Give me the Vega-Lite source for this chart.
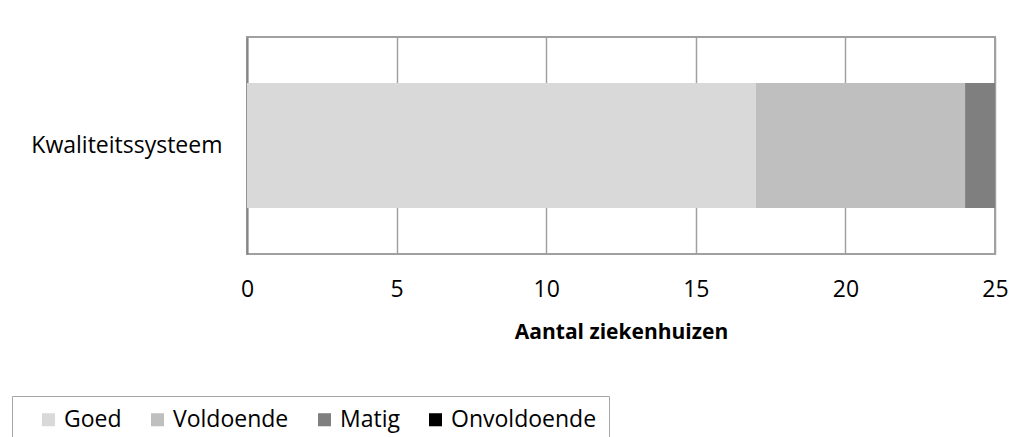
{
  "$schema": "https://vega.github.io/schema/vega-lite/v6.json",
  "autosize": "none",
  "width": 748,
  "height": 217,
  "padding": {"left": 247, "top": 37, "right": 39, "bottom": 183},
  "background": "white",
  "data": {
    "values": [
      {"Aspect": "Kwaliteitssysteem", "Beoordeling": "Goed", "Rang": 1, "Aantal": 17},
      {"Aspect": "Kwaliteitssysteem", "Beoordeling": "Voldoende", "Rang": 2, "Aantal": 7},
      {"Aspect": "Kwaliteitssysteem", "Beoordeling": "Matig", "Rang": 3, "Aantal": 1},
      {"Aspect": "Kwaliteitssysteem", "Beoordeling": "Onvoldoende", "Rang": 4, "Aantal": 0}
    ]
  },
  "mark": {"type": "bar", "strokeWidth": 0},
  "encoding": {
    "y": {
      "field": "Aspect",
      "type": "nominal",
      "title": null,
      "scale": {"paddingInner": 0, "paddingOuter": 0.368},
      "axis": {
        "ticks": false,
        "domain": true,
        "domainColor": "#868686",
        "domainWidth": 2,
        "labelPadding": 25,
        "labelLimit": 400,
        "labelFontSize": 23,
        "labelColor": "#000000",
        "labelFont": "Open Sans"
      }
    },
    "x": {
      "field": "Aantal",
      "type": "quantitative",
      "stack": "zero",
      "title": "Aantal ziekenhuizen",
      "scale": {"domain": [0, 25], "nice": false},
      "axis": {
        "values": [0, 5, 10, 15, 20, 25],
        "ticks": false,
        "domain": false,
        "grid": true,
        "gridColor": "#a0a0a0",
        "gridWidth": 1.5,
        "labelFlush": false,
        "labelOverlap": false,
        "labelPadding": 24,
        "labelFontSize": 23,
        "labelColor": "#000000",
        "labelFont": "Open Sans",
        "titleFont": "Open Sans",
        "titleFontSize": 21,
        "titleFontWeight": "bold",
        "titleColor": "#000000",
        "titlePadding": 20
      }
    },
    "color": {
      "field": "Beoordeling",
      "type": "nominal",
      "scale": {
        "domain": ["Goed", "Voldoende", "Matig", "Onvoldoende"],
        "range": ["#d9d9d9", "#bfbfbf", "#7f7f7f", "#000000"]
      },
      "legend": {
        "title": null,
        "orient": "none",
        "legendX": -235,
        "legendY": 359,
        "direction": "horizontal",
        "columns": 4,
        "strokeColor": "#a6a6a6",
        "padding": 12,
        "symbolType": "square",
        "symbolSize": 170,
        "symbolStrokeWidth": 0,
        "symbolOffset": 13,
        "labelFont": "Open Sans",
        "labelFontSize": 23,
        "labelColor": "#000000",
        "labelOffset": 4,
        "columnPadding": 11
      }
    },
    "order": {"field": "Rang", "type": "quantitative"}
  },
  "config": {
    "font": "Open Sans",
    "view": {"stroke": "#a0a0a0", "strokeWidth": 2}
  }
}
